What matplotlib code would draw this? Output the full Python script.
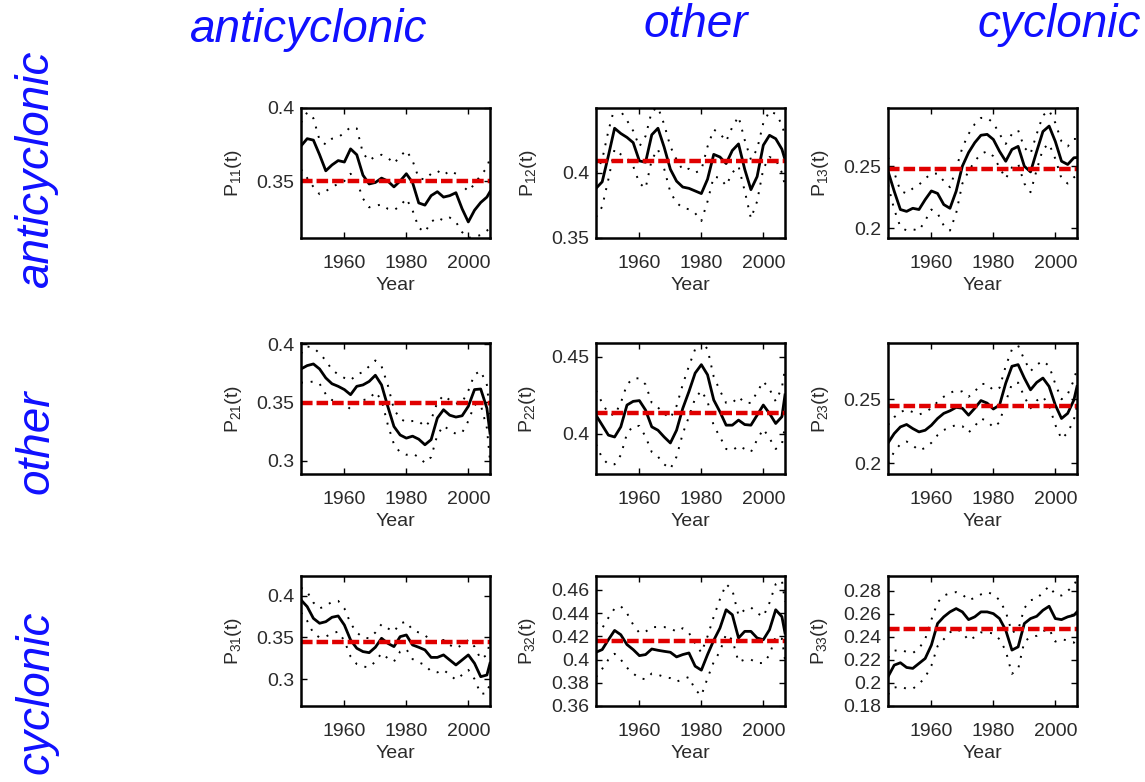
import matplotlib
matplotlib.use("Agg")
import matplotlib.pyplot as plt

plt.rcParams['font.family'] = ['Liberation Sans', 'DejaVu Sans']
plt.rcParams['mathtext.default'] = 'regular'

# years sampled from the curves
years = [1946, 1948, 1950, 1952, 1954, 1956, 1958, 1960, 1962, 1964, 1966,
         1968, 1970, 1972, 1974, 1976, 1978, 1980, 1982, 1984, 1986, 1988,
         1990, 1992, 1994, 1996, 1998, 2000, 2002, 2004, 2006, 2007]

row_names = ["anticyclonic", "other", "cyclonic"]

# P11
p11 = [0.374, 0.379, 0.378, 0.368, 0.357, 0.361, 0.364, 0.363, 0.372, 0.368, 0.354,
       0.348, 0.349, 0.352, 0.350, 0.346, 0.350, 0.355, 0.349, 0.335, 0.3335, 0.340,
       0.3427, 0.339, 0.340, 0.342, 0.331, 0.322, 0.330, 0.3353, 0.339, 0.3427]
p11_hi = [0.390, 0.397, 0.393, 0.378, 0.375, 0.379, 0.380, 0.383, 0.387, 0.386, 0.369,
          0.364, 0.367, 0.368, 0.366, 0.362, 0.367, 0.371, 0.364, 0.352, 0.351, 0.355,
          0.357, 0.354, 0.357, 0.355, 0.347, 0.343, 0.348, 0.354, 0.359, 0.366]
p11_lo = [0.358, 0.352, 0.346, 0.341, 0.343, 0.346, 0.348, 0.350, 0.355, 0.350, 0.338,
          0.332, 0.333, 0.334, 0.331, 0.330, 0.333, 0.338, 0.330, 0.318, 0.315, 0.322,
          0.325, 0.323, 0.325, 0.322, 0.315, 0.311, 0.312, 0.313, 0.316, 0.318]

# P12
p12 = [0.388, 0.393, 0.413, 0.434, 0.430, 0.427, 0.423, 0.409, 0.408, 0.429, 0.434,
       0.4195, 0.4026, 0.3935, 0.389, 0.388, 0.386, 0.384, 0.395, 0.414, 0.412, 0.407,
       0.417, 0.422, 0.4026, 0.387, 0.397, 0.421, 0.4286, 0.426, 0.418, 0.410]
p12_hi = [0.400, 0.410, 0.432, 0.450, 0.447, 0.440, 0.432, 0.420, 0.428, 0.447, 0.450,
          0.437, 0.420, 0.410, 0.402, 0.403, 0.400, 0.402, 0.420, 0.433, 0.430, 0.424,
          0.435, 0.443, 0.425, 0.410, 0.418, 0.438, 0.447, 0.445, 0.437, 0.428]
p12_lo = [0.366, 0.374, 0.395, 0.418, 0.414, 0.411, 0.405, 0.392, 0.388, 0.410, 0.418,
          0.403, 0.385, 0.377, 0.373, 0.372, 0.369, 0.363, 0.378, 0.397, 0.396, 0.390,
          0.400, 0.405, 0.386, 0.365, 0.378, 0.403, 0.412, 0.410, 0.400, 0.390]

# P13
p13 = [0.246, 0.2298, 0.215, 0.2135, 0.216, 0.215, 0.223, 0.230, 0.228, 0.219, 0.216,
       0.2298, 0.250, 0.261, 0.269, 0.275, 0.2757, 0.2716, 0.262, 0.254, 0.2635, 0.266,
       0.250, 0.2454, 0.262, 0.278, 0.2824, 0.270, 0.254, 0.2514, 0.2568, 0.257]
p13_hi = [0.257, 0.245, 0.230, 0.228, 0.232, 0.235, 0.240, 0.244, 0.244, 0.238, 0.233,
          0.248, 0.265, 0.276, 0.284, 0.289, 0.289, 0.285, 0.276, 0.268, 0.276, 0.279,
          0.265, 0.260, 0.276, 0.291, 0.295, 0.285, 0.270, 0.266, 0.272, 0.272]
p13_lo = [0.235, 0.215, 0.201, 0.198, 0.199, 0.198, 0.206, 0.215, 0.212, 0.202, 0.198,
          0.212, 0.236, 0.246, 0.254, 0.260, 0.262, 0.258, 0.249, 0.240, 0.249, 0.252,
          0.236, 0.229, 0.247, 0.264, 0.268, 0.256, 0.240, 0.236, 0.241, 0.242]

# P21
p21 = [0.3787, 0.3816, 0.383, 0.3787, 0.371, 0.366, 0.3638, 0.361, 0.3566, 0.3638, 0.365,
       0.368, 0.3733, 0.365, 0.3466, 0.3293, 0.322, 0.3193, 0.321, 0.3184, 0.3136, 0.318,
       0.3365, 0.3437, 0.339, 0.3374, 0.3385, 0.3466, 0.361, 0.3615, 0.345, 0.3236]
p21_hi = [0.392, 0.398, 0.397, 0.392, 0.386, 0.378, 0.374, 0.371, 0.369, 0.374, 0.376,
          0.381, 0.386, 0.381, 0.365, 0.344, 0.336, 0.333, 0.334, 0.334, 0.329, 0.335,
          0.350, 0.356, 0.352, 0.349, 0.350, 0.360, 0.374, 0.377, 0.365, 0.340]
p21_lo = [0.367, 0.367, 0.368, 0.366, 0.357, 0.352, 0.351, 0.349, 0.344, 0.350, 0.352,
          0.353, 0.359, 0.352, 0.331, 0.314, 0.307, 0.305, 0.306, 0.303, 0.298, 0.303,
          0.322, 0.330, 0.326, 0.323, 0.324, 0.334, 0.348, 0.348, 0.328, 0.300]

# P22
p22 = [0.412, 0.4055, 0.399, 0.3978, 0.4044, 0.4186, 0.421, 0.4215, 0.4153, 0.4044, 0.4022,
       0.3978, 0.3939, 0.4022, 0.4164, 0.4274, 0.4394, 0.4449, 0.4383, 0.4219, 0.4142, 0.4055,
       0.4055, 0.4088, 0.4059, 0.4055, 0.412, 0.4186, 0.4131, 0.4066, 0.411, 0.4252]
p22_hi = [0.428, 0.420, 0.413, 0.412, 0.420, 0.432, 0.436, 0.436, 0.432, 0.420, 0.417,
          0.413, 0.410, 0.418, 0.432, 0.444, 0.455, 0.460, 0.455, 0.437, 0.428, 0.420,
          0.420, 0.424, 0.420, 0.420, 0.427, 0.434, 0.429, 0.421, 0.430, 0.442]
p22_lo = [0.393, 0.384, 0.380, 0.380, 0.386, 0.400, 0.405, 0.405, 0.398, 0.388, 0.385,
          0.380, 0.377, 0.385, 0.400, 0.411, 0.423, 0.428, 0.421, 0.405, 0.398, 0.390,
          0.389, 0.392, 0.390, 0.388, 0.396, 0.403, 0.397, 0.390, 0.393, 0.405]

# P23
p23 = [0.2158, 0.2232, 0.2284, 0.2303, 0.2271, 0.2245, 0.2258, 0.2297, 0.235, 0.239, 0.241,
       0.2437, 0.243, 0.2376, 0.243, 0.249, 0.247, 0.2424, 0.2455, 0.2626, 0.2758, 0.2771,
       0.2666, 0.2574, 0.2632, 0.2666, 0.260, 0.2455, 0.235, 0.239, 0.2495, 0.260]
p23_hi = [0.230, 0.236, 0.240, 0.242, 0.240, 0.238, 0.240, 0.243, 0.248, 0.252, 0.255,
          0.257, 0.256, 0.252, 0.256, 0.262, 0.262, 0.257, 0.259, 0.276, 0.289, 0.292,
          0.281, 0.272, 0.277, 0.280, 0.276, 0.262, 0.250, 0.254, 0.265, 0.274]
p23_lo = [0.200, 0.209, 0.215, 0.217, 0.214, 0.210, 0.212, 0.216, 0.222, 0.226, 0.228,
          0.230, 0.229, 0.224, 0.229, 0.235, 0.233, 0.228, 0.232, 0.248, 0.262, 0.263,
          0.252, 0.243, 0.249, 0.252, 0.245, 0.230, 0.219, 0.224, 0.234, 0.245]

# P31
p31 = [0.3952, 0.3871, 0.373, 0.3671, 0.369, 0.3743, 0.3759, 0.365, 0.347, 0.337, 0.333,
       0.3317, 0.3382, 0.349, 0.343, 0.339, 0.351, 0.353, 0.341, 0.3382, 0.335, 0.326,
       0.326, 0.329, 0.3229, 0.3169, 0.3229, 0.329, 0.3189, 0.3028, 0.3048, 0.3189]
p31_hi = [0.410, 0.405, 0.392, 0.385, 0.388, 0.393, 0.394, 0.385, 0.367, 0.356, 0.350,
          0.349, 0.356, 0.366, 0.361, 0.357, 0.367, 0.369, 0.359, 0.356, 0.353, 0.345,
          0.344, 0.347, 0.341, 0.337, 0.341, 0.347, 0.339, 0.324, 0.329, 0.345]
p31_lo = [0.380, 0.370, 0.355, 0.350, 0.351, 0.355, 0.357, 0.346, 0.327, 0.318, 0.315,
          0.314, 0.321, 0.331, 0.325, 0.321, 0.333, 0.336, 0.324, 0.320, 0.317, 0.309,
          0.308, 0.311, 0.305, 0.299, 0.305, 0.311, 0.300, 0.282, 0.283, 0.295]

# P32
p32 = [0.4063, 0.4086, 0.4171, 0.4251, 0.4214, 0.4129, 0.4086, 0.4034, 0.4043, 0.4091, 0.408,
       0.4071, 0.4063, 0.4023, 0.4043, 0.4057, 0.3943, 0.3909, 0.4043, 0.4166, 0.4271, 0.4429,
       0.4386, 0.4186, 0.4243, 0.4243, 0.4186, 0.4171, 0.4257, 0.4429, 0.437, 0.4229]
p32_hi = [0.432, 0.427, 0.436, 0.444, 0.446, 0.440, 0.430, 0.423, 0.424, 0.428, 0.428,
          0.428, 0.427, 0.424, 0.427, 0.423, 0.414, 0.406, 0.420, 0.437, 0.452, 0.465,
          0.460, 0.438, 0.443, 0.445, 0.440, 0.437, 0.449, 0.465, 0.468, 0.450]
p32_lo = [0.385, 0.392, 0.400, 0.405, 0.400, 0.393, 0.388, 0.384, 0.383, 0.388, 0.387,
          0.385, 0.384, 0.381, 0.383, 0.385, 0.374, 0.369, 0.384, 0.398, 0.407, 0.422,
          0.417, 0.398, 0.400, 0.400, 0.397, 0.397, 0.404, 0.420, 0.418, 0.400]

# P33
p33 = [0.2054, 0.2155, 0.2176, 0.2135, 0.2127, 0.217, 0.2213, 0.2329, 0.2517, 0.2575, 0.2618,
       0.2647, 0.2618, 0.2551, 0.2575, 0.2618, 0.2618, 0.2603, 0.256, 0.2459, 0.2286, 0.2314,
       0.2517, 0.256, 0.258, 0.2632, 0.2667, 0.256, 0.2551, 0.2575, 0.2589, 0.2618]
p33_hi = [0.222, 0.228, 0.229, 0.227, 0.226, 0.230, 0.238, 0.255, 0.270, 0.276, 0.278,
          0.279, 0.277, 0.272, 0.274, 0.277, 0.279, 0.277, 0.272, 0.262, 0.244, 0.246,
          0.265, 0.272, 0.273, 0.279, 0.284, 0.277, 0.276, 0.280, 0.285, 0.290]
p33_lo = [0.190, 0.196, 0.197, 0.195, 0.195, 0.199, 0.205, 0.215, 0.232, 0.238, 0.244,
          0.247, 0.244, 0.237, 0.240, 0.244, 0.244, 0.243, 0.238, 0.228, 0.208, 0.212,
          0.236, 0.240, 0.241, 0.245, 0.247, 0.236, 0.238, 0.237, 0.235, 0.240]

# long-term mean (red dashed line)
ref_level = {"11": 0.350, "12": 0.409, "13": 0.2475,
             "21": 0.3494, "22": 0.4131, "23": 0.2447,
             "31": 0.344, "32": 0.4157, "33": 0.2465}

panels = {"11": (p11, p11_hi, p11_lo), "12": (p12, p12_hi, p12_lo), "13": (p13, p13_hi, p13_lo),
          "21": (p21, p21_hi, p21_lo), "22": (p22, p22_hi, p22_lo), "23": (p23, p23_hi, p23_lo),
          "31": (p31, p31_hi, p31_lo), "32": (p32, p32_hi, p32_lo), "33": (p33, p33_hi, p33_lo)}

ylims = {"11": (0.311, 0.4), "12": (0.35, 0.4495), "13": (0.192, 0.297),
         "21": (0.2885, 0.401), "22": (0.3737, 0.459), "23": (0.1916, 0.294),
         "31": (0.2675, 0.424), "32": (0.36, 0.472), "33": (0.18, 0.293)}
yticks = {"11": [0.35, 0.4], "12": [0.35, 0.4], "13": [0.2, 0.25],
          "21": [0.3, 0.35, 0.4], "22": [0.4, 0.45], "23": [0.2, 0.25],
          "31": [0.3, 0.35, 0.4], "32": [0.36, 0.38, 0.4, 0.42, 0.44, 0.46],
          "33": [0.18, 0.2, 0.22, 0.24, 0.26, 0.28]}

W, H = 1145, 782
fig = plt.figure(figsize=(W / 100, H / 100), dpi=100)

col_x = [301, 596, 888]
row_y = [(108, 238), (343, 474), (576, 706)]
ax_w = 189

blue = '#1010ff'
txt = '#2a2a2a'
for i in range(3):
    for j in range(3):
        key = f"{i+1}{j+1}"
        top, bot = row_y[i]
        ax = fig.add_axes([col_x[j] / W, 1 - bot / H, ax_w / W, (bot - top) / H])
        mean, hi, lo = panels[key]
        ax.plot(years, hi, color='k', lw=1.4, linestyle=(0, (1, 4)))
        ax.plot(years, lo, color='k', lw=1.4, linestyle=(0, (1, 4)))
        ax.plot(years, mean, color='k', lw=2.0)
        ax.axhline(ref_level[key], color='#e00000', lw=3.2, linestyle=(0, (2.6, 0.9)))
        ax.set_xlim(1946, 2007)
        ax.set_ylim(*ylims[key])
        ax.set_xticks([1960, 1980, 2000])
        ax.set_yticks(yticks[key])
        ax.set_yticklabels([f"{v:g}" for v in yticks[key]])
        ax.tick_params(direction='in', top=True, right=True, length=4, width=1,
                       labelsize=14, colors='k', labelcolor=txt)
        ax.tick_params(axis='x', pad=12)
        ax.tick_params(axis='y', pad=5)
        for s in ax.spines.values():
            s.set_linewidth(1.8)
        ax.set_xlabel("Year", fontsize=14, color=txt, labelpad=4)
        ax.set_ylabel(f"P$_{{{key}}}$(t)", fontsize=14, color=txt, labelpad=9)

# column headers
fig.text(309 / W, 1 - 30 / H, row_names[0], fontsize=33, style='italic', color=blue,
         ha='center', va='center')
fig.text(696 / W, 1 - 25 / H, row_names[1], fontsize=33, style='italic', color=blue,
         ha='center', va='center')
fig.text(1059 / W, 1 - 25 / H, row_names[2], fontsize=33, style='italic', color=blue,
         ha='center', va='center')

# row headers
for name, yc in zip(row_names, [168, 442, 692]):
    fig.text(36 / W, 1 - yc / H, name, fontsize=33, style='italic', color=blue,
             ha='center', va='center', rotation=90)

fig.savefig("out.png", dpi=100)
